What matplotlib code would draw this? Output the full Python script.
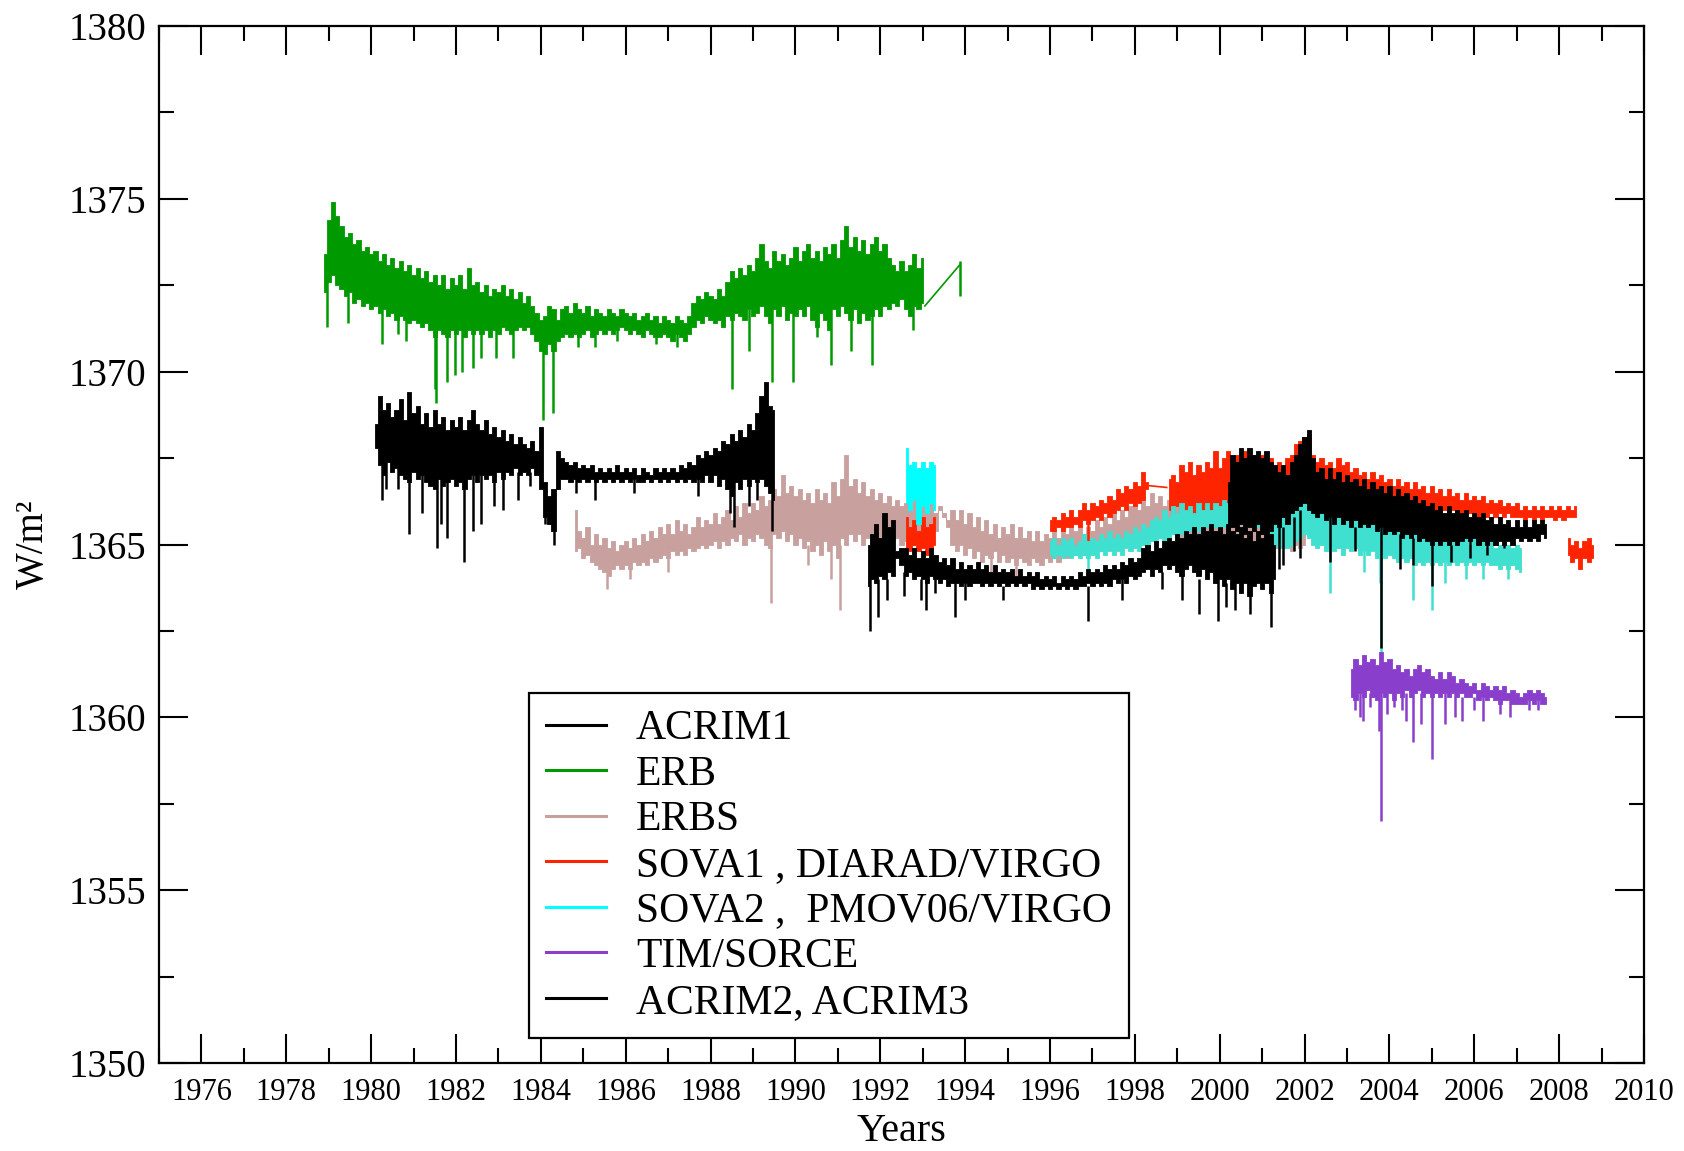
import numpy as np
import matplotlib
matplotlib.use("Agg")
import matplotlib.pyplot as plt
from matplotlib.lines import Line2D

plt.rcParams['font.family'] = ['Liberation Serif', 'DejaVu Serif']

# ---------------- data ----------------
# each record: upper / lower envelope of the daily values, sampled every STEP years from T0
STEP = 0.1

ERB_T0 = 1978.9
ERB_HI = [1373.4,
          1374.4, 1374.9, 1374.5, 1374.2, 1373.9, 1374.0, 1373.7, 1373.8, 1373.5, 1373.6,
          1373.4, 1373.5, 1373.2, 1373.4, 1373.1, 1373.3, 1373.0, 1373.2, 1372.9, 1373.1,
          1372.8, 1373.0, 1372.7, 1372.9, 1372.6, 1372.8, 1372.5, 1372.8, 1372.4, 1372.7,
          1372.5, 1372.8, 1372.4, 1373.0, 1372.5, 1372.6, 1372.3, 1372.5, 1372.2, 1372.4,
          1372.3, 1372.5, 1372.2, 1372.4, 1372.1, 1372.3, 1372.0, 1372.2, 1371.9, 1371.7,
          1371.5, 1371.6, 1371.9, 1371.8, 1371.5, 1371.8, 1371.9, 1371.7, 1372.0, 1371.8,
          1371.7, 1371.9, 1371.6, 1371.8, 1371.7, 1371.6, 1371.8, 1371.7, 1371.6, 1371.8,
          1371.7, 1371.6, 1371.7, 1371.5, 1371.6, 1371.7, 1371.5, 1371.6, 1371.4, 1371.6,
          1371.5, 1371.4, 1371.6, 1371.5, 1371.4, 1371.6, 1372.0, 1372.2, 1372.1, 1372.3,
          1372.2, 1372.1, 1372.4, 1372.2, 1372.6, 1372.9, 1372.7, 1373.0, 1372.8, 1373.1,
          1372.9, 1373.3, 1373.7, 1373.2, 1373.0, 1373.5, 1373.2, 1373.4, 1373.1, 1373.3,
          1373.6, 1373.2, 1373.5, 1373.7, 1373.3, 1373.5, 1373.2, 1373.6, 1373.4, 1373.7,
          1373.3, 1373.8, 1374.2, 1373.6, 1373.9, 1373.5, 1373.8, 1373.4, 1373.7, 1373.9,
          1373.5, 1373.7, 1373.3, 1373.1, 1372.9, 1373.2, 1372.9, 1373.1, 1373.4, 1373.0,
          1373.3]
ERB_LO = [1372.3,
          1372.6, 1372.8, 1372.5, 1372.4, 1372.2, 1372.3, 1372.0, 1372.1, 1371.9, 1372.0,
          1371.8, 1371.9, 1371.7, 1371.8, 1371.6, 1371.7, 1371.5, 1371.6, 1371.5, 1371.4,
          1371.5, 1371.4, 1371.3, 1371.4, 1371.2, 1371.0, 1371.2, 1371.1, 1371.0, 1371.2,
          1371.1, 1371.2, 1371.0, 1371.2, 1371.1, 1371.2, 1371.1, 1371.2, 1371.0, 1371.2,
          1371.1, 1371.3, 1371.2, 1371.1, 1371.2, 1371.3, 1371.2, 1371.3, 1371.1, 1370.9,
          1370.6, 1370.5, 1370.8, 1370.6, 1370.9, 1371.0, 1371.1, 1371.0, 1371.1, 1371.0,
          1371.1, 1371.2, 1371.0, 1371.1, 1371.2, 1371.1, 1371.2, 1371.1, 1371.2, 1371.3,
          1371.2, 1371.1, 1371.2, 1371.1, 1371.0, 1371.2, 1371.1, 1371.0, 1371.0, 1371.1,
          1371.0, 1370.9, 1371.1, 1371.0, 1370.9, 1371.1, 1371.3, 1371.5, 1371.4, 1371.6,
          1371.5, 1371.4, 1371.5, 1371.3, 1371.6, 1371.5, 1371.7, 1371.6, 1371.5, 1371.8,
          1371.6, 1371.7, 1371.9, 1371.6, 1371.4, 1371.8, 1371.6, 1371.9, 1371.5, 1371.7,
          1371.6, 1371.8, 1371.6, 1371.9, 1371.5, 1371.3, 1371.7, 1371.5, 1371.2, 1371.8,
          1371.6, 1371.9, 1371.7, 1371.5, 1371.8, 1371.4, 1371.7, 1371.5, 1371.6, 1371.8,
          1371.6, 1371.9, 1371.8, 1372.0, 1371.9, 1372.1, 1371.8, 1371.6, 1371.9, 1371.8,
          1372.0]
# sparse end of the ERB record (thin connecting line)
ERB_GAP_T = [1993.05, 1993.88]
ERB_GAP_V = [1371.9, 1373.1]
# isolated excursions: (year, low, high)
ERB_SPIKES = [(1978.95, 1371.3, 1372.8), (1979.45, 1371.4, 1372.6), (1980.25, 1370.8, 1372.0),
              (1980.64, 1371.1, 1372.0), (1980.82, 1370.9, 1372.0), (1981.50, 1369.5, 1371.5),
              (1981.54, 1369.1, 1371.5), (1981.78, 1369.7, 1371.5), (1981.98, 1369.9, 1371.5),
              (1982.13, 1370.0, 1371.5), (1982.41, 1370.1, 1371.5), (1982.60, 1370.4, 1371.5),
              (1982.95, 1370.4, 1371.5), (1983.35, 1370.4, 1371.5), (1984.06, 1368.6, 1371.0),
              (1984.29, 1368.8, 1371.0), (1984.88, 1370.7, 1371.3), (1985.28, 1370.7, 1371.3),
              (1985.80, 1370.9, 1371.3), (1986.72, 1370.8, 1371.3), (1987.20, 1370.7, 1371.2),
              (1988.50, 1369.5, 1371.8), (1988.90, 1370.6, 1371.8), (1989.44, 1369.7, 1371.8),
              (1989.95, 1369.7, 1371.8), (1990.50, 1371.0, 1371.8), (1990.85, 1370.2, 1371.8),
              (1991.30, 1370.6, 1371.8), (1991.80, 1370.2, 1371.8), (1992.78, 1371.2, 1372.0),
              (1993.88, 1372.2, 1373.2)]

ACRIM1_T0 = 1980.1
ACRIM1_HI = [1368.5, 1369.3, 1368.9, 1369.1, 1368.7, 1368.9, 1369.2, 1368.6, 1369.4,
             1368.8, 1369.0, 1368.5, 1368.8, 1368.4, 1368.9, 1368.5, 1368.7, 1368.3, 1368.6,
             1368.4, 1368.7, 1368.3, 1368.6, 1368.9, 1368.5, 1368.3, 1368.6, 1368.2, 1368.4,
             1368.1, 1368.3, 1368.0, 1368.2, 1367.9, 1368.1, 1367.9, 1367.8, 1368.0, 1367.7,
             1368.4, 1366.8, 1366.4, 1366.6, 1367.7, 1367.5, 1367.4, 1367.3, 1367.4, 1367.2,
             1367.3, 1367.2, 1367.3, 1367.1, 1367.2, 1367.1, 1367.2, 1367.1, 1367.3, 1367.1,
             1367.2, 1367.1, 1367.2, 1367.0, 1367.2, 1367.1, 1367.0, 1367.2, 1367.1, 1367.2,
             1367.1, 1367.2, 1367.1, 1367.3, 1367.2, 1367.4, 1367.3, 1367.6, 1367.5, 1367.7,
             1367.6, 1367.8, 1367.7, 1368.0, 1367.9, 1368.2, 1368.0, 1368.3, 1368.1, 1368.5,
             1368.3, 1368.8, 1369.3, 1369.7, 1369.0, 1368.9]
ACRIM1_LO = [1367.8, 1367.3, 1367.0, 1367.4, 1367.1, 1367.2, 1367.0, 1366.9, 1366.8,
             1367.1, 1366.9, 1367.0, 1366.8, 1366.7, 1366.6, 1366.9, 1366.7, 1366.8, 1366.9,
             1366.7, 1366.8, 1366.6, 1366.9, 1367.0, 1366.8, 1367.0, 1366.9, 1367.0, 1366.8,
             1367.1, 1366.9, 1367.1, 1367.0, 1367.2, 1367.0, 1367.1, 1367.0, 1367.2, 1367.0,
             1366.6, 1365.8, 1365.6, 1365.4, 1366.6, 1366.9, 1366.9, 1366.8, 1366.9, 1366.8,
             1366.9, 1366.8, 1366.9, 1366.8, 1366.9, 1366.8, 1366.9, 1366.8, 1366.9, 1366.8,
             1366.9, 1366.8, 1366.9, 1366.8, 1366.8, 1366.9, 1366.8, 1366.9, 1366.8, 1366.9,
             1366.8, 1366.9, 1366.8, 1366.9, 1366.8, 1366.9, 1366.8, 1366.9, 1366.8, 1367.0,
             1366.8, 1367.0, 1366.7, 1366.9, 1366.6, 1366.4, 1366.8, 1366.6, 1366.9, 1366.7,
             1366.9, 1366.8, 1366.9, 1366.7, 1366.5, 1366.3]
ACRIM1_SPIKES = [(1980.25, 1366.3, 1367.5), (1980.35, 1366.6, 1367.5), (1980.64, 1366.6, 1367.5),
                 (1980.90, 1365.3, 1367.2), (1981.20, 1365.9, 1367.2), (1981.55, 1364.9, 1367.0),
                 (1981.65, 1365.6, 1367.0), (1981.78, 1365.2, 1367.0), (1982.20, 1364.5, 1367.0),
                 (1982.40, 1365.4, 1367.0), (1982.60, 1365.6, 1367.0), (1982.90, 1366.1, 1367.0),
                 (1983.10, 1366.0, 1367.1), (1983.45, 1366.3, 1367.1), (1983.74, 1366.7, 1367.1),
                 (1984.10, 1365.6, 1366.5), (1984.32, 1365.0, 1366.5), (1984.84, 1366.5, 1367.0),
                 (1985.28, 1366.3, 1367.0), (1986.20, 1366.5, 1366.9), (1987.70, 1366.4, 1367.0),
                 (1988.45, 1365.9, 1367.0), (1988.55, 1365.5, 1367.0), (1988.90, 1366.1, 1367.0),
                 (1989.10, 1366.3, 1367.0), (1989.45, 1365.4, 1367.0)]

ERBS_T0 = 1984.8
ERBS_HI = [1366.0, 1365.4,
           1365.2, 1365.5, 1365.0, 1365.3, 1365.0, 1365.2, 1364.9, 1365.1, 1364.8, 1365.0,
           1365.1, 1364.9, 1365.2, 1365.0, 1365.3, 1365.1, 1365.4, 1365.2, 1365.5, 1365.3,
           1365.6, 1365.3, 1365.7, 1365.4, 1365.6, 1365.3, 1365.5, 1365.8, 1365.5, 1365.7,
           1365.6, 1365.9, 1365.6, 1365.8, 1366.0, 1365.7, 1366.1, 1365.8, 1366.2, 1365.9,
           1366.2, 1366.0, 1366.4, 1366.1, 1366.3, 1366.6, 1366.4, 1367.0, 1366.5, 1366.7,
           1366.4, 1366.6, 1366.3, 1366.5, 1366.2, 1366.6, 1366.3, 1366.5, 1366.2, 1366.8,
           1366.4, 1366.9, 1367.6, 1366.7, 1366.9, 1366.5, 1366.8, 1366.4, 1366.6, 1366.3,
           1366.5, 1366.2, 1366.4, 1366.1, 1366.3, 1366.1, 1366.2, 1366.0, 1366.3, 1366.1,
           1366.2, 1366.0, 1366.2, 1365.9, 1366.1, 1365.9, 1365.7, 1366.0, 1365.7, 1366.0,
           1365.6, 1365.9, 1365.5, 1365.8, 1365.4, 1365.7, 1365.3, 1365.6, 1365.2, 1365.5,
           1365.3, 1365.6, 1365.2, 1365.5, 1365.2, 1365.4, 1365.1, 1365.4, 1365.1, 1365.3,
           1365.2, 1365.4, 1365.2, 1365.5, 1365.3, 1365.6, 1365.4, 1365.6, 1365.3, 1365.5,
           1365.4, 1365.7, 1365.5, 1365.8, 1365.6, 1365.9, 1365.7, 1366.0, 1365.8, 1366.1,
           1366.2, 1366.0, 1366.4, 1366.1, 1366.5, 1366.2, 1366.4, 1366.1, 1366.3, 1366.0,
           1366.2, 1366.0, 1366.3, 1366.1, 1366.2, 1366.0, 1366.2, 1365.9, 1366.1, 1366.0,
           1366.1, 1365.9, 1366.2, 1366.0, 1366.1, 1365.9, 1366.0, 1365.8, 1366.1, 1365.9,
           1366.0, 1365.8, 1366.0, 1365.9, 1366.1, 1365.8, 1365.9, 1365.7, 1365.9, 1365.8,
           1365.9]
ERBS_LO = [1364.8, 1364.9,
           1364.6, 1364.7, 1364.5, 1364.4, 1364.3, 1364.2, 1364.1, 1364.3, 1364.4, 1364.3,
           1364.4, 1364.3, 1364.5, 1364.4, 1364.5, 1364.4, 1364.6, 1364.5, 1364.6, 1364.7,
           1364.6, 1364.8, 1364.7, 1364.8, 1364.7, 1364.9, 1364.8, 1364.9, 1365.0, 1364.9,
           1365.0, 1365.1, 1364.9, 1365.1, 1365.0, 1365.2, 1365.1, 1365.3, 1365.0, 1365.2,
           1365.1, 1365.3, 1365.2, 1365.0, 1364.9, 1365.3, 1365.2, 1365.4, 1365.1, 1365.3,
           1365.0, 1365.2, 1364.9, 1365.1, 1364.8, 1365.0, 1364.7, 1365.1, 1364.8, 1365.0,
           1364.6, 1365.2, 1365.0, 1365.3, 1365.1, 1365.3, 1365.0, 1365.2, 1364.9, 1365.1,
           1365.2, 1365.0, 1365.3, 1365.1, 1365.2, 1365.0, 1365.1, 1365.2, 1365.0, 1365.2,
           1365.1, 1365.3, 1365.1, 1365.4, 1366.0, 1365.8, 1365.5, 1365.0, 1364.8, 1365.0,
           1364.7, 1364.9, 1364.6, 1364.8, 1364.5, 1364.7, 1364.6, 1364.8, 1364.5, 1364.7,
           1364.5, 1364.6, 1364.4, 1364.6, 1364.5, 1364.4, 1364.6, 1364.5, 1364.4, 1364.6,
           1364.5, 1364.6, 1364.5, 1364.7, 1364.6, 1364.8, 1364.7, 1364.8, 1364.7, 1364.9,
           1364.8, 1364.9, 1364.8, 1365.0, 1364.9, 1365.1, 1365.0, 1365.2, 1365.1, 1365.2,
           1365.3, 1365.2, 1365.4, 1365.3, 1365.5, 1365.4, 1365.5, 1365.3, 1365.4, 1365.3,
           1365.4, 1365.2, 1365.3, 1365.2, 1365.4, 1365.2, 1365.3, 1365.1, 1365.3, 1365.2,
           1365.2, 1365.0, 1365.2, 1365.1, 1365.2, 1365.0, 1365.1, 1364.9, 1365.1, 1365.0,
           1365.1, 1364.9, 1365.0, 1364.9, 1365.1, 1364.9, 1365.0, 1364.8, 1365.0, 1364.9,
           1365.0]
ERBS_SPIKES = [(1985.55, 1363.7, 1364.5), (1986.10, 1364.0, 1364.5), (1987.00, 1364.2, 1364.7),
               (1989.43, 1363.3, 1365.0), (1990.30, 1364.4, 1365.0), (1990.85, 1364.0, 1365.0),
               (1991.05, 1363.1, 1365.0), (1994.60, 1364.2, 1364.8), (1995.20, 1364.0, 1364.6)]

SOVA_T0 = 1992.6
SOVA1_HI = [1365.8, 1365.5, 1365.7, 1365.4, 1365.8, 1365.5, 1365.6, 1365.8]
SOVA1_LO = [1364.9, 1364.8, 1365.0, 1364.8, 1364.9, 1364.7, 1364.9, 1365.0]
SOVA2_HI = [1367.8, 1367.3, 1367.4, 1367.2, 1367.4, 1367.2, 1367.4, 1367.3]
SOVA2_LO = [1366.2, 1366.0, 1366.3, 1365.6, 1366.1, 1365.9, 1366.2, 1366.0]

NAN = float('nan')
DIARAD_T0 = 1996.0
DIARAD_HI = [1365.7, 1365.8, 1365.7, 1365.9, 1365.8, 1366.0, 1365.8, 1366.0, 1366.2, 1366.0,
             1366.2, 1366.1, 1366.3, 1366.2, 1366.4, 1366.3, 1366.6, 1366.5, 1366.7, 1366.6,
             1366.8, 1366.7, 1367.1, 1366.8, NAN, NAN, NAN, NAN, 1366.9, 1367.0,
             1366.8, 1367.3, 1367.1, 1367.4, 1367.0, 1367.3, 1367.1, 1367.4, 1367.2, 1367.7,
             1367.2, 1367.5, 1367.7, 1367.4, 1367.6, 1367.3, 1367.7, 1367.5, 1367.6, 1367.4,
             1367.6, 1367.3, 1367.5, 1367.2, 1367.4, 1367.2, 1367.5, 1367.6, 1367.9, 1368.0,
             1368.1, 1368.2, 1367.6, 1367.4, 1367.5, 1367.3, 1367.4, 1367.2, 1367.5, 1367.3,
             1367.4, 1367.1, 1367.2, 1367.0, 1367.1, 1366.9, 1367.1, 1366.9, 1367.0, 1366.8,
             1366.9, 1366.7, 1366.9, 1366.7, 1366.8, 1366.6, 1366.8, 1366.6, 1366.7, 1366.5,
             1366.7, 1366.5, 1366.6, 1366.4, 1366.6, 1366.4, 1366.5, 1366.3, 1366.5, 1366.3,
             1366.4, 1366.3, 1366.4, 1366.2, 1366.3, 1366.2, 1366.3, 1366.1, 1366.2, 1366.1,
             1366.2, 1366.0, 1366.1, 1366.0, 1366.1, 1366.0, 1366.1, 1366.0, 1366.1, 1366.0,
             1366.1, 1366.0, 1366.1, 1366.0, 1366.1]
DIARAD_LO = [1365.4, 1365.4, 1365.5, 1365.4, 1365.5, 1365.5, 1365.6, 1365.5, 1365.7, 1365.6,
             1365.7, 1365.8, 1365.7, 1365.9, 1365.8, 1365.9, 1366.0, 1366.1, 1366.0, 1366.2,
             1366.1, 1366.2, 1366.3, 1366.6, NAN, NAN, NAN, NAN, 1366.0, 1365.9,
             1366.1, 1365.8, 1365.9, 1365.7, 1365.8, 1365.6, 1365.8, 1365.7, 1365.6, 1365.7,
             1365.5, 1365.8, 1366.0, 1366.1, 1366.0, 1366.2, 1366.1, 1366.3, 1366.2, 1366.3,
             1366.1, 1366.4, 1366.3, 1366.5, 1366.4, 1366.6, 1366.5, 1366.7, 1366.8, 1366.9,
             1367.0, 1366.9, 1366.8, 1366.7, 1366.8, 1366.6, 1366.7, 1366.6, 1366.7, 1366.6,
             1366.7, 1366.5, 1366.6, 1366.4, 1366.5, 1366.4, 1366.5, 1366.3, 1366.4, 1366.3,
             1366.2, 1366.3, 1366.2, 1366.1, 1366.2, 1366.1, 1366.2, 1366.0, 1366.1, 1366.0,
             1366.1, 1366.0, 1365.9, 1366.0, 1365.9, 1366.0, 1365.9, 1365.9, 1366.0, 1365.9,
             1365.9, 1365.8, 1365.9, 1365.8, 1365.9, 1365.8, 1365.9, 1365.8, 1365.9, 1365.8,
             1365.8, 1365.8, 1365.7, 1365.8, 1365.7, 1365.8, 1365.7, 1365.8, 1365.8, 1365.7,
             1365.8, 1365.7, 1365.8, 1365.8, 1365.8]
DIARAD_GAP_T = [1998.35, 1998.75]
DIARAD_GAP_V = [1366.7, 1366.65]
DIARAD_SPIKES = [(1996.90, 1364.8, 1365.6)]
DIARAD2_T0 = 2008.2
DIARAD2_HI = [1365.2, 1365.0, 1365.1, 1364.9, 1365.1, 1365.2, 1365.0]
DIARAD2_LO = [1364.7, 1364.5, 1364.6, 1364.3, 1364.6, 1364.5, 1364.6]

PMO_T0 = 1996.0
PMO_HI = [1365.1, 1365.2, 1365.0, 1365.2, 1365.1, 1365.2, 1365.0, 1365.1, 1365.3, 1365.1,
          1365.2, 1365.1, 1365.3, 1365.2, 1365.4, 1365.2, 1365.3, 1365.2, 1365.4, 1365.3,
          1365.5, 1365.4, 1365.6, 1365.5, 1365.7, 1365.8, 1365.7, 1366.0, 1365.8, 1366.1,
          1365.9, 1366.2, 1366.0, 1366.1, 1365.9, 1366.2, 1366.0, 1366.2, 1366.0, 1366.2,
          1366.1, 1366.3, 1366.2, 1366.4, 1366.3, 1366.6, 1366.4, 1366.9, 1366.5, 1366.8,
          1366.4, 1366.7, 1366.3, 1366.0, 1365.8, 1366.0, 1365.7, 1365.9, 1366.1, 1366.4,
          1366.9, 1366.6, 1366.2, 1366.0, 1366.1, 1365.9, 1366.1, 1365.8, 1366.0, 1365.8,
          1366.0, 1365.7, 1365.9, 1365.7, 1365.9, 1365.6, 1365.8, 1365.6, 1365.8, 1365.5,
          1365.7, 1365.5, 1365.6, 1365.4, 1365.6, 1365.4, 1365.5, 1365.3, 1365.5, 1365.3,
          1365.4, 1365.2, 1365.4, 1365.2, 1365.3, 1365.1, 1365.3, 1365.1, 1365.2, 1365.0,
          1365.2, 1365.0, 1365.1, 1364.9, 1365.1, 1364.9, 1365.0, 1364.9, 1365.0, 1364.9,
          1365.0, 1364.9]
PMO_LO = [1364.7, 1364.6, 1364.7, 1364.6, 1364.7, 1364.6, 1364.7, 1364.6, 1364.7, 1364.6,
          1364.7, 1364.6, 1364.8, 1364.7, 1364.8, 1364.7, 1364.8, 1364.7, 1364.9, 1364.8,
          1364.9, 1364.8, 1365.0, 1364.9, 1365.1, 1365.0, 1365.2, 1365.1, 1365.2, 1365.3,
          1365.2, 1365.3, 1365.2, 1365.4, 1365.3, 1365.4, 1365.3, 1365.5, 1365.4, 1365.5,
          1365.4, 1365.5, 1365.4, 1365.6, 1365.5, 1365.6, 1365.5, 1365.7, 1365.6, 1365.5,
          1365.6, 1365.4, 1365.3, 1365.0, 1364.9, 1365.1, 1364.9, 1365.0, 1365.1, 1365.2,
          1365.3, 1365.2, 1365.0, 1364.9, 1365.0, 1364.8, 1364.9, 1364.8, 1364.9, 1364.7,
          1364.9, 1364.8, 1364.9, 1364.7, 1364.8, 1364.7, 1364.8, 1364.6, 1364.7, 1364.6,
          1364.7, 1364.6, 1364.5, 1364.6, 1364.5, 1364.6, 1364.4, 1364.5, 1364.4, 1364.5,
          1364.4, 1364.5, 1364.4, 1364.5, 1364.4, 1364.5, 1364.4, 1364.5, 1364.4, 1364.5,
          1364.4, 1364.5, 1364.4, 1364.5, 1364.4, 1364.4, 1364.3, 1364.4, 1364.3, 1364.4,
          1364.3, 1364.2]
PMO_SPIKES = [(1996.90, 1364.0, 1364.7), (2002.60, 1363.6, 1364.9), (2003.40, 1364.2, 1364.8),
              (2003.78, 1363.9, 1364.7), (2003.80, 1361.7, 1364.7), (2004.56, 1363.4, 1364.5),
              (2005.01, 1363.1, 1364.5), (2005.30, 1363.9, 1364.5), (2005.80, 1364.0, 1364.5),
              (2006.20, 1364.0, 1364.4), (2006.80, 1364.0, 1364.4)]

ACRIM2_T0 = 1991.7
ACRIM2_HI = [1365.0, 1365.3, 1365.6,
             1365.2, 1365.9, 1365.5, 1365.7, 1364.8, 1364.9, 1364.9, 1364.7, 1364.9, 1364.6,
             1364.8, 1364.6, 1364.9, 1364.7, 1364.5, 1364.6, 1364.4, 1364.6, 1364.3, 1364.5,
             1364.3, 1364.4, 1364.3, 1364.5, 1364.3, 1364.4, 1364.2, 1364.4, 1364.2, 1364.3,
             1364.2, 1364.3, 1364.1, 1364.3, 1364.1, 1364.2, 1364.1, 1364.2, 1364.0, 1364.1,
             1364.0, 1364.1, 1363.9, 1364.1, 1364.0, 1364.1, 1364.0, 1364.2, 1364.1, 1364.3,
             1364.2, 1364.3, 1364.2, 1364.4, 1364.3, 1364.4, 1364.3, 1364.5, 1364.4, 1364.6,
             1364.5, 1364.6, 1364.9, 1365.0, 1364.8, 1365.1, 1364.9, 1365.1, 1365.2, 1365.1,
             1365.3, 1365.2, 1365.4, 1365.3, 1365.5, 1365.3, 1365.5, 1365.4, 1365.6, 1365.4,
             1365.5, 1365.3, 1365.6, 1365.4, 1365.3, 1365.5, 1365.2, 1365.4, 1365.1, 1365.4,
             1365.2, 1365.5, 1365.3, 1365.0]
ACRIM2_LO = [1363.8, 1364.0, 1363.9,
             1364.1, 1364.0, 1364.2, 1364.1, 1364.6, 1364.4, 1364.1, 1364.2, 1364.0, 1364.1,
             1364.0, 1363.9, 1364.1, 1364.0, 1363.9, 1364.0, 1363.8, 1363.9, 1363.9, 1363.8,
             1363.9, 1363.8, 1363.9, 1363.9, 1363.8, 1363.9, 1363.8, 1363.9, 1363.8, 1363.9,
             1363.8, 1363.9, 1363.8, 1363.9, 1363.8, 1363.9, 1363.7, 1363.8, 1363.7, 1363.8,
             1363.7, 1363.8, 1363.7, 1363.8, 1363.7, 1363.8, 1363.7, 1363.8, 1363.8, 1363.9,
             1363.8, 1363.9, 1363.8, 1363.9, 1363.8, 1364.0, 1363.9, 1364.0, 1363.9, 1364.1,
             1364.0, 1364.1, 1364.2, 1364.3, 1364.1, 1364.3, 1364.2, 1364.4, 1364.3, 1364.4,
             1364.2, 1364.1, 1364.3, 1364.4, 1364.2, 1364.1, 1364.3, 1364.0, 1364.2, 1363.9,
             1364.0, 1363.8, 1364.0, 1363.7, 1363.9, 1363.6, 1363.9, 1363.5, 1363.8, 1363.9,
             1363.7, 1363.9, 1363.6, 1364.0]
ACRIM2_SPIKES = [(1991.75, 1362.5, 1364.0), (1991.95, 1362.9, 1364.0), (1992.15, 1363.4, 1364.0),
                 (1992.55, 1363.5, 1364.2), (1992.95, 1363.4, 1364.0), (1993.08, 1363.1, 1364.0),
                 (1993.30, 1363.6, 1364.0), (1993.75, 1362.9, 1363.9), (1994.00, 1363.4, 1363.9),
                 (1994.90, 1363.4, 1363.8), (1996.89, 1362.8, 1363.8), (1997.70, 1363.4, 1364.0),
                 (1998.65, 1363.7, 1364.2), (1999.12, 1363.4, 1364.2), (1999.50, 1363.0, 1364.0),
                 (1999.97, 1362.8, 1364.0), (2000.15, 1363.2, 1363.9), (2000.35, 1363.1, 1363.9),
                 (2000.71, 1363.0, 1363.7), (2001.22, 1362.6, 1363.7)]

ACRIM3_T0 = 2000.2
ACRIM3_HI = [1366.8, 1367.6, 1367.4, 1367.8, 1367.5, 1367.8, 1367.6, 1367.7,
             1367.5, 1367.7, 1367.4, 1367.3, 1367.1, 1367.3, 1367.0, 1367.4, 1367.6, 1367.9,
             1368.1, 1368.3, 1367.5, 1367.1, 1367.2, 1366.9, 1367.2, 1366.9, 1367.1, 1366.8,
             1367.0, 1366.8, 1366.9, 1366.7, 1366.9, 1366.6, 1366.8, 1366.6, 1366.7, 1366.5,
             1366.7, 1366.4, 1366.6, 1366.4, 1366.5, 1366.3, 1366.4, 1366.2, 1366.3, 1366.1,
             1366.2, 1366.0, 1366.1, 1365.9, 1366.1, 1365.9, 1366.0, 1365.9, 1366.0, 1365.8,
             1365.9, 1365.8, 1365.9, 1365.7, 1365.8, 1365.6, 1365.8, 1365.6, 1365.7, 1365.5,
             1365.7, 1365.5, 1365.7, 1365.5, 1365.7, 1365.6, 1365.7, 1365.6]
ACRIM3_LO = [1365.3, 1365.5, 1365.4, 1365.6, 1365.3, 1365.5, 1365.4, 1365.6,
             1365.3, 1365.5, 1365.4, 1365.6, 1365.5, 1365.8, 1365.6, 1365.9, 1366.0, 1366.1,
             1366.2, 1366.0, 1365.9, 1365.8, 1365.9, 1365.7, 1365.8, 1365.6, 1365.8, 1365.6,
             1365.7, 1365.5, 1365.7, 1365.5, 1365.6, 1365.5, 1365.6, 1365.4, 1365.5, 1365.3,
             1365.4, 1365.3, 1365.4, 1365.2, 1365.3, 1365.2, 1365.3, 1365.1, 1365.2, 1365.1,
             1365.0, 1365.1, 1365.0, 1365.1, 1365.0, 1365.1, 1365.0, 1365.1, 1365.2, 1365.1,
             1365.2, 1365.0, 1365.1, 1365.0, 1365.1, 1365.0, 1365.1, 1365.0, 1365.1, 1365.0,
             1365.2, 1365.1, 1365.2, 1365.1, 1365.2, 1365.1, 1365.3, 1365.2]
ACRIM3_SPIKES = [(2001.40, 1364.3, 1365.5), (2001.50, 1364.4, 1365.5), (2001.75, 1364.8, 1365.8),
                 (2001.90, 1364.6, 1366.0), (2002.60, 1364.5, 1365.8), (2003.20, 1364.8, 1365.5),
                 (2003.80, 1362.0, 1365.5), (2004.25, 1364.3, 1365.3), (2004.55, 1364.4, 1365.2),
                 (2005.01, 1363.8, 1365.1), (2005.45, 1364.5, 1365.0), (2005.90, 1364.6, 1365.1),
                 (2006.30, 1364.7, 1365.0), (2006.70, 1364.9, 1365.0)]

TIM_T0 = 2003.1
TIM_HI = [1361.4, 1361.7, 1361.5, 1361.8, 1361.6, 1361.7, 1361.5, 1361.9, 1361.6,
          1361.7, 1361.4, 1361.5, 1361.3, 1361.4, 1361.2, 1361.4, 1361.5, 1361.3, 1361.4,
          1361.2, 1361.1, 1361.3, 1361.1, 1361.3, 1361.2, 1361.0, 1361.1, 1361.0, 1360.9,
          1361.0, 1360.8, 1361.0, 1360.9, 1360.8, 1360.9, 1360.8, 1360.9, 1360.7, 1360.8,
          1360.7, 1360.6, 1360.7, 1360.8, 1360.7, 1360.8, 1360.7, 1360.6]
TIM_LO = [1360.6, 1360.5, 1360.7, 1360.6, 1360.8, 1360.6, 1360.5, 1360.7, 1360.6,
          1360.7, 1360.5, 1360.7, 1360.6, 1360.8, 1360.6, 1360.7, 1360.8, 1360.6, 1360.7,
          1360.6, 1360.7, 1360.6, 1360.7, 1360.6, 1360.7, 1360.6, 1360.7, 1360.6, 1360.6,
          1360.7, 1360.5, 1360.6, 1360.5, 1360.6, 1360.5, 1360.4, 1360.5, 1360.5, 1360.4,
          1360.4, 1360.4, 1360.4, 1360.5, 1360.4, 1360.5, 1360.4, 1360.4]
TIM_SPIKES = [(2003.20, 1360.2, 1360.8), (2003.30, 1360.0, 1360.7), (2003.38, 1359.9, 1360.7),
              (2003.55, 1360.3, 1360.7), (2003.75, 1359.6, 1360.7), (2003.80, 1357.0, 1360.7),
              (2003.95, 1360.1, 1360.7), (2004.10, 1360.3, 1360.7), (2004.30, 1360.2, 1360.7),
              (2004.40, 1359.9, 1360.7), (2004.56, 1359.3, 1360.7), (2004.75, 1359.8, 1360.7),
              (2005.01, 1358.8, 1360.7), (2005.30, 1359.8, 1360.7), (2005.55, 1360.0, 1360.7),
              (2005.70, 1359.9, 1360.6), (2006.00, 1360.2, 1360.6), (2006.21, 1359.9, 1360.6),
              (2006.60, 1360.1, 1360.5), (2006.85, 1360.0, 1360.5), (2007.30, 1360.2, 1360.5),
              (2007.50, 1360.2, 1360.5)]

LEGEND_LABELS = ["ACRIM1", "ERB", "ERBS", "SOVA1 , DIARAD/VIRGO",
                 "SOVA2 ,  PMOV06/VIRGO", "TIM/SORCE", "ACRIM2, ACRIM3"]

# ---------------- styling ----------------
C_BLACK = "#000000"
C_ERB = "#009a00"
C_ERBS = "#c8a09e"
C_RED = "#ff2400"
C_CYAN = "#00ffff"
C_TURQ = "#40e0d0"
C_TIM = "#8a3fcc"
LEGEND_COLORS = [C_BLACK, C_ERB, C_ERBS, C_RED, C_CYAN, C_TIM, C_BLACK]

fig = plt.figure(figsize=(16.84, 11.51), dpi=100)
ax = fig.add_axes([159 / 1684, 1 - 1063 / 1151, (1644 - 159) / 1684, (1063 - 26) / 1151])


def band(t0, hi, lo, color, z):
    hi = np.asarray(hi, float)
    lo = np.asarray(lo, float)
    t = t0 + STEP * np.arange(len(hi))
    ax.fill_between(t, lo, hi, step='mid', color=color, lw=0.6, edgecolor=color, zorder=z)


def spikes(sp, color, z):
    sp = np.asarray(sp, float)
    ax.vlines(sp[:, 0], sp[:, 1], sp[:, 2], colors=color, lw=1.8, zorder=z)


band(ERB_T0, ERB_HI, ERB_LO, C_ERB, 2)
spikes(ERB_SPIKES, C_ERB, 2)
ax.plot(ERB_GAP_T, ERB_GAP_V, color=C_ERB, lw=1.2, zorder=2)

band(ACRIM1_T0, ACRIM1_HI, ACRIM1_LO, C_BLACK, 3)
spikes(ACRIM1_SPIKES, C_BLACK, 3)

band(ERBS_T0, ERBS_HI, ERBS_LO, C_ERBS, 1)
spikes(ERBS_SPIKES, C_ERBS, 1)

band(SOVA_T0, SOVA1_HI, SOVA1_LO, C_RED, 4)
band(SOVA_T0, SOVA2_HI, SOVA2_LO, C_CYAN, 4)

band(DIARAD_T0, DIARAD_HI, DIARAD_LO, C_RED, 4)
spikes(DIARAD_SPIKES, C_RED, 4)
ax.plot(DIARAD_GAP_T, DIARAD_GAP_V, color=C_RED, lw=1.2, zorder=4)
band(DIARAD2_T0, DIARAD2_HI, DIARAD2_LO, C_RED, 4)

band(PMO_T0, PMO_HI, PMO_LO, C_TURQ, 5)
spikes(PMO_SPIKES, C_TURQ, 5)

band(ACRIM2_T0, ACRIM2_HI, ACRIM2_LO, C_BLACK, 6)
spikes(ACRIM2_SPIKES, C_BLACK, 6)
band(ACRIM3_T0, ACRIM3_HI, ACRIM3_LO, C_BLACK, 6)
spikes(ACRIM3_SPIKES, C_BLACK, 6)

band(TIM_T0, TIM_HI, TIM_LO, C_TIM, 7)
spikes(TIM_SPIKES, C_TIM, 7)

# ---------------- axes ----------------
ax.set_xlim(1975, 2010)
ax.set_ylim(1350, 1380)
ax.set_xticks(np.arange(1976, 2011, 2))
ax.set_xticks(np.arange(1975, 2011, 1), minor=True)
ax.set_yticks(np.arange(1350, 1381, 5))
ax.set_yticks(np.arange(1350, 1381, 2.5), minor=True)
ax.tick_params(which='both', direction='in', top=True, right=True, width=1.5, color='black')
ax.tick_params(which='major', length=21)
ax.tick_params(which='minor', length=10.5)
ax.tick_params(axis='x', which='major', labelsize=22, pad=11)
ax.tick_params(axis='y', which='major', labelsize=28, pad=9)
for s in ax.spines.values():
    s.set_linewidth(1.6)

ax.set_xlabel("Years", fontsize=29, labelpad=4)
ax.set_ylabel("W/m²", fontsize=28, labelpad=12)

handles = [Line2D([0], [0], color=c, lw=2.2) for c in LEGEND_COLORS]
leg = ax.legend(handles, LEGEND_LABELS, loc='upper left',
                bbox_to_anchor=(529 / 1684, 1 - 693 / 1151), bbox_transform=fig.transFigure,
                borderaxespad=0, fontsize=30, frameon=True, fancybox=False, shadow=False,
                framealpha=1, edgecolor='black', handlelength=1.45, handletextpad=0.72,
                labelspacing=0.17, borderpad=0.4)
leg.get_frame().set_linewidth(1.6)
leg.set_zorder(10)

fig.savefig("out.png", dpi=100)
